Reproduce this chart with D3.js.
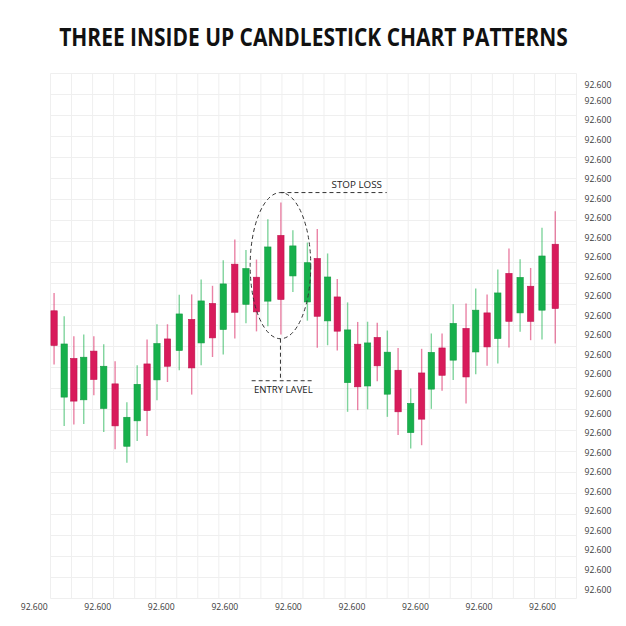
<!DOCTYPE html>
<html>
<head>
<meta charset="utf-8">
<script src="https://cdn.jsdelivr.net/npm/d3@7"></script>
<style>
  html, body { margin: 0; padding: 0; background: #ffffff; }
  svg { display: block; }
</style>
</head>
<body>
<svg id="chart" width="626" height="626"></svg>
<script>
// ---------------- DATA (grid units) ----------------
const title = "THREE INSIDE UP CANDLESTICK CHART PATTERNS";

const times = [0.17,0.65,1.11,1.58,2.06,2.53,3.07,3.63,4.12,4.59,5.06,5.56,6.12,6.71,7.16,7.70,8.21,8.76,9.29,9.79,10.33,10.95,11.52,12.21,12.68,13.17,13.63,14.12,14.60,15.07,15.53,16.01,16.52,17.12,17.64,18.10,18.61,19.14,19.75,20.21,20.75,21.26,21.79,22.32,22.82,23.36,23.99];
const opens  = [13.70,9.59,11.43,9.46,11.78,9.05,10.22,7.25,8.46,11.17,10.41,12.36,11.81,13.29,12.17,14.05,12.81,15.92,14.01,15.30,14.16,17.29,15.36,14.12,16.19,13.22,14.36,10.28,12.11,10.12,12.43,9.73,10.87,7.90,10.74,9.97,11.93,11.35,12.86,11.74,13.60,12.38,15.48,13.60,14.87,13.73,16.87];
const closes = [12.05,12.12,9.40,11.49,10.43,11.06,8.22,8.63,10.20,8.95,12.14,11.06,13.55,10.98,14.17,12.41,14.98,13.63,15.71,13.65,16.74,14.24,16.79,15.99,13.44,15.31,12.73,12.79,10.08,12.17,11.08,11.73,8.89,9.29,8.54,11.72,10.63,13.10,10.55,13.73,11.98,14.55,13.20,15.29,13.20,16.31,13.81];
const highs  = [14.55,13.44,12.49,12.57,12.49,12.11,11.30,9.35,11.11,12.33,13.06,13.06,14.47,14.48,15.19,14.89,16.11,17.10,16.59,16.14,18.06,18.86,17.54,16.95,17.59,16.43,15.22,14.10,13.17,13.18,13.13,12.76,11.93,10.00,11.89,12.62,12.62,14.01,14.05,14.76,14.48,15.67,16.67,16.16,15.74,17.65,18.44];
const lows   = [11.14,8.22,8.29,8.31,9.68,7.93,7.11,6.46,7.50,7.74,9.44,10.31,10.87,9.71,11.11,11.50,11.62,12.38,13.11,12.72,12.97,12.57,14.60,13.23,11.94,12.06,11.81,8.89,8.97,9.01,10.34,8.65,7.78,7.14,7.30,9.03,9.89,10.40,9.29,10.68,11.08,11.19,11.95,12.70,12.30,12.33,12.14];

const yTickValues = [0.44,1.37,2.30,3.23,4.16,5.10,6.03,6.96,7.89,8.82,9.75,10.68,11.61,12.54,13.47,14.40,15.33,16.26,17.19,18.12,19.05,19.98,20.91,21.84,22.78,23.70,24.48];
const yTickLabels = yTickValues.map(() => "92.600");
const xTickValues = [-0.80,2.22,5.24,8.26,11.28,14.30,17.32,20.34,23.36];
const xTickLabels = xTickValues.map(() => "92.600");

// annotations (grid units)
const ellipseCenter = {t: 10.93, v: 15.85};
const ellipseRadius = {t: 1.44, v: 3.48};
const stopLoss = {t0: 10.93, t1: 15.98, v: 19.33, label: "STOP LOSS", labelT: 13.36, labelV: 19.54};
const entry = {t: 10.93, vTop: 12.37, vBottom: 10.37, t0: 9.56, t1: 12.46, label: "ENTRY LAVEL", labelT: 9.67, labelV: 9.77};

// ---------------- CHART ----------------
const svg = d3.select("#chart");
const gridN = 25;
const x = d3.scaleLinear().domain([0, gridN]).range([50.5, 576.5]);
const y = d3.scaleLinear().domain([0, gridN]).range([598.5, 73.5]);

const RED = "#d81b5b", GREEN = "#17b04c";
const font = "'Open Sans', 'Noto Sans', sans-serif";

// grid
const grid = svg.append("g");
grid.selectAll("line.v").data(d3.range(0, gridN + 1)).join("line")
  .attr("x1", d => x(d)).attr("x2", d => x(d))
  .attr("y1", y(0)).attr("y2", y(gridN))
  .attr("stroke", "#efefef").attr("stroke-width", 1);
grid.selectAll("line.h").data(d3.range(0, gridN + 1)).join("line")
  .attr("y1", d => y(d)).attr("y2", d => y(d))
  .attr("x1", x(0)).attr("x2", x(gridN))
  .attr("stroke", "#efefef").attr("stroke-width", 1);

// title (condensed horizontally to the reference width)
const titleG = svg.append("g");
const titleText = titleG.append("text")
  .attr("x", 0).attr("y", 0)
  .attr("text-anchor", "middle")
  .attr("font-family", font).attr("font-weight", 700).attr("font-size", 25)
  .attr("fill", "#111")
  .text(title);
const natural = titleText.node().getComputedTextLength();
const sx = Math.min(1, 509 / natural);
titleG.attr("transform", `translate(313.5,46) scale(${sx},1)`);

// right axis
const yAxis = d3.axisRight(y).tickValues(yTickValues)
  .tickFormat((d, i) => yTickLabels[i]).tickSize(0).tickPadding(8);
const gy = svg.append("g").attr("transform", `translate(${x(gridN)},0)`).call(yAxis);
gy.select(".domain").remove();
gy.selectAll("text").attr("font-family", font).attr("font-size", 8.6).attr("fill", "#3a3a3a");

// bottom axis
const xAxis = d3.axisBottom(x).tickValues(xTickValues)
  .tickFormat((d, i) => xTickLabels[i]).tickSize(0).tickPadding(5);
const gx = svg.append("g").attr("transform", `translate(0,${y(0)})`).call(xAxis);
gx.select(".domain").remove();
gx.selectAll("text").attr("font-family", font).attr("font-size", 8.6).attr("fill", "#3a3a3a");

// candles
const candles = times.map((t, i) => ({t, o: opens[i], c: closes[i], h: highs[i], l: lows[i]}));
const bodyW = x(0.30) - x(0);
const cg = svg.append("g");
cg.selectAll("line.wick").data(candles).join("line")
  .attr("x1", d => x(d.t)).attr("x2", d => x(d.t))
  .attr("y1", d => y(d.h)).attr("y2", d => y(d.l))
  .attr("stroke", d => d.c >= d.o ? GREEN : RED)
  .attr("stroke-opacity", 0.55)
  .attr("stroke-width", 1.4);
cg.selectAll("rect.body").data(candles).join("rect")
  .attr("x", d => x(d.t) - bodyW / 2)
  .attr("width", bodyW)
  .attr("y", d => y(Math.max(d.o, d.c)))
  .attr("height", d => Math.abs(y(d.o) - y(d.c)))
  .attr("fill", d => d.c >= d.o ? GREEN : RED)
  .attr("stroke", d => d.c >= d.o ? "#129a41" : "#bf124c")
  .attr("stroke-width", 0.6);

// annotations
const dash = "4,3";
const ann = svg.append("g").attr("fill", "none").attr("stroke", "#333").attr("stroke-width", 1).attr("stroke-dasharray", dash);
ann.append("ellipse")
  .attr("cx", x(ellipseCenter.t)).attr("cy", y(ellipseCenter.v))
  .attr("rx", x(ellipseCenter.t + ellipseRadius.t) - x(ellipseCenter.t))
  .attr("ry", y(ellipseCenter.v) - y(ellipseCenter.v + ellipseRadius.v));
ann.append("line")
  .attr("x1", x(stopLoss.t0)).attr("x2", x(stopLoss.t1))
  .attr("y1", y(stopLoss.v)).attr("y2", y(stopLoss.v));
ann.append("line")
  .attr("x1", x(entry.t)).attr("x2", x(entry.t))
  .attr("y1", y(entry.vTop)).attr("y2", y(entry.vBottom));
ann.append("line")
  .attr("x1", x(entry.t0)).attr("x2", x(entry.t1))
  .attr("y1", y(entry.vBottom)).attr("y2", y(entry.vBottom));

svg.append("text")
  .attr("x", x(stopLoss.labelT)).attr("y", y(stopLoss.labelV))
  .attr("font-family", font).attr("font-size", 9.8).attr("fill", "#222")
  .text(stopLoss.label);
svg.append("text")
  .attr("x", x(entry.labelT)).attr("y", y(entry.labelV))
  .attr("font-family", font).attr("font-size", 9.6).attr("fill", "#222")
  .text(entry.label);
</script>
</body>
</html>
